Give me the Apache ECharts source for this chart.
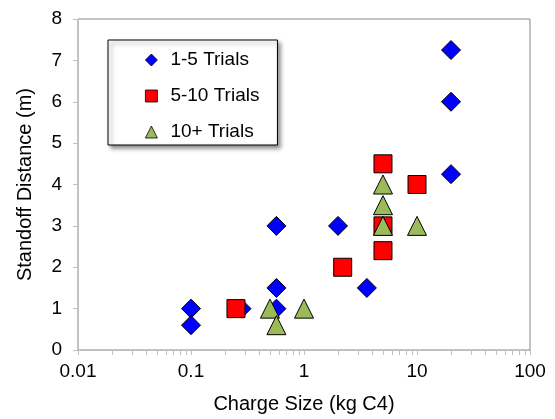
<!DOCTYPE html>
<html>
<head>
<meta charset="utf-8">
<script src="https://cdn.jsdelivr.net/npm/echarts@6/dist/echarts.min.js"></script>
<style>
  html, body { margin: 0; padding: 0; background: #fff; }
  #chart { width: 555px; height: 419px; }
</style>
</head>
<body>
<div id="chart"></div>
<script>
// Charge size (kg C4) vs standoff distance (m), grouped by number of trials
const seriesNames = ['1-5 Trials', '5-10 Trials', '10+ Trials'];

const trials1to5Charge = [0.1, 0.1, 0.28, 0.57, 0.57, 0.57, 2, 3.6, 20, 20, 20];
const trials1to5Standoff = [1, 0.6, 1, 3, 1.5, 1, 3, 1.5, 7.25, 6, 4.25];

const trials5to10Charge = [0.25, 2.2, 5, 5, 5, 10];
const trials5to10Standoff = [1, 2, 4.5, 3, 2.4, 4];

const trials10plusCharge = [0.5, 0.57, 1, 5, 5, 5, 10];
const trials10plusStandoff = [1, 0.6, 1, 4, 3.5, 3, 3];

// Log-axis minor tick values (2..9 within each decade)
const minorTickValues = [];
[0.01, 0.1, 1, 10].forEach(function (d) {
  for (let k = 2; k <= 9; k++) minorTickValues.push(+(d * k).toPrecision(3));
});

function pairs(xs, ys) {
  return xs.map(function (x, i) { return [x, ys[i]]; });
}

const FONT = 'Liberation Sans, Arial, sans-serif';
const AXIS_GRAY = '#bfbfbf';

const chart = echarts.init(document.getElementById('chart'), null, { renderer: 'canvas' });

const markerStyle = { borderColor: '#000', borderWidth: 1, opacity: 1 };

chart.setOption({
  animation: false,
  backgroundColor: '#fff',
  grid: {
    left: 78, right: 25, top: 19, bottom: 65,
    show: true, borderColor: '#878787', borderWidth: 1, backgroundColor: '#fff'
  },
  legend: {
    data: [
      { name: seriesNames[0], icon: 'diamond' },
      { name: seriesNames[1], icon: 'rect' },
      { name: seriesNames[2], icon: 'triangle' }
    ],
    orient: 'vertical',
    left: 108, top: 40,
    itemWidth: 12, itemHeight: 12, itemGap: 16,
    padding: [10, 18, 3, 37],
    backgroundColor: '#fff',
    borderColor: '#000', borderWidth: 1,
    shadowColor: 'rgba(0,0,0,0.45)', shadowBlur: 4, shadowOffsetX: 3, shadowOffsetY: 3,
    textStyle: { fontFamily: FONT, fontSize: 19, color: '#000', lineHeight: 20, padding: [0, 0, 0, 8] },
    itemStyle: { borderColor: '#000', borderWidth: 0.8 }
  },
  xAxis: {
    type: 'log', logBase: 10, min: 0.01, max: 100,
    name: 'Charge Size (kg C4)', nameLocation: 'middle', nameGap: 44,
    nameTextStyle: { fontFamily: FONT, fontSize: 20, color: '#000' },
    axisLine: { show: true, onZero: false, lineStyle: { color: AXIS_GRAY, width: 1 } },
    axisTick: { show: true, inside: false, length: 5, lineStyle: { color: AXIS_GRAY } },
    axisLabel: { fontFamily: FONT, fontSize: 19, color: '#000', margin: 12 },
    splitLine: { show: false },
    minorTick: { show: false }
  },
  yAxis: {
    type: 'value', min: 0, max: 8, interval: 1,
    name: 'Standoff Distance (m)', nameLocation: 'middle', nameGap: 43,
    nameTextStyle: { fontFamily: FONT, fontSize: 20, color: '#000' },
    axisLine: { show: true, lineStyle: { color: AXIS_GRAY, width: 1 } },
    axisTick: { show: true, inside: false, length: 5, lineStyle: { color: AXIS_GRAY } },
    axisLabel: { fontFamily: FONT, fontSize: 19, color: '#000', margin: 16 },
    splitLine: { show: false }
  },
  series: [
    {
      name: 'minorTicks',
      type: 'custom',
      silent: true,
      clip: false,
      z: 1,
      data: minorTickValues.map(function (v) { return [v, 0]; }),
      renderItem: function (params, api) {
        const p = api.coord([api.value(0), 0]);
        return {
          type: 'line',
          shape: { x1: Math.round(p[0]) + 0.5, y1: p[1], x2: Math.round(p[0]) + 0.5, y2: p[1] + 5 },
          style: { stroke: AXIS_GRAY, lineWidth: 1 }
        };
      }
    },
    {
      name: seriesNames[0], type: 'scatter', symbol: 'diamond', symbolSize: 19,
      itemStyle: Object.assign({ color: '#0000ff' }, markerStyle),
      data: pairs(trials1to5Charge, trials1to5Standoff), z: 3
    },
    {
      name: seriesNames[1], type: 'scatter', symbol: 'rect', symbolSize: 18,
      itemStyle: Object.assign({ color: '#ff0000' }, markerStyle),
      data: pairs(trials5to10Charge, trials5to10Standoff), z: 4
    },
    {
      name: seriesNames[2], type: 'scatter', symbol: 'triangle', symbolSize: 19,
      itemStyle: Object.assign({ color: '#9bbb59' }, markerStyle),
      data: pairs(trials10plusCharge, trials10plusStandoff), z: 5
    }
  ]
});
</script>
</body>
</html>
